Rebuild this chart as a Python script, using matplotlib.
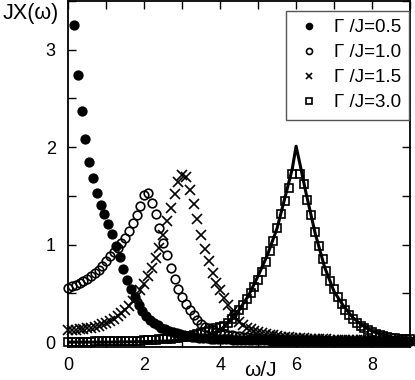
import numpy as np
import matplotlib
matplotlib.use("Agg")
import matplotlib.pyplot as plt
from matplotlib.ticker import MultipleLocator

# frequency grids (omega / J)
w_half = np.round(np.arange(0.15, 9.0, 0.1), 2)   # Gamma/J = 0.5 samples
w_full = np.round(np.arange(0.0, 9.01, 0.1), 2)   # other samples

chi_05 = [3.25, 2.74, 2.37, 2.08, 1.85, 1.68, 1.53, 1.41, 1.31, 1.21,
          1.11, 0.99, 0.87, 0.75, 0.64, 0.54, 0.46, 0.38, 0.32, 0.27,
          0.23, 0.20, 0.175, 0.15, 0.13, 0.115, 0.10, 0.09, 0.08,
          0.07, 0.063, 0.057, 0.052, 0.047, 0.043, 0.04, 0.037, 0.034, 0.032,
          0.03, 0.028, 0.027, 0.025, 0.024, 0.023, 0.022, 0.021, 0.02, 0.019,
          0.018, 0.018, 0.017, 0.016, 0.016, 0.015, 0.015, 0.014, 0.014, 0.013,
          0.013, 0.013, 0.012, 0.012, 0.012, 0.011, 0.011, 0.011, 0.01, 0.01,
          0.01, 0.01, 0.01, 0.009, 0.009, 0.009, 0.009, 0.009, 0.008, 0.008,
          0.008, 0.008, 0.008, 0.008, 0.007, 0.007, 0.007, 0.007, 0.007, 0.007]

chi_10 = [0.56, 0.575, 0.59, 0.61, 0.63, 0.65, 0.68, 0.71, 0.74, 0.78, 0.83,
          0.88, 0.92, 0.97, 1.02, 1.07, 1.14, 1.22, 1.30, 1.40, 1.51,
          1.53, 1.43, 1.31, 1.17, 1.02, 0.89, 0.76, 0.65, 0.55, 0.46,
          0.39, 0.33, 0.275, 0.23, 0.19, 0.16, 0.14, 0.12, 0.105, 0.095,
          0.085, 0.077, 0.07, 0.064, 0.058, 0.053, 0.049, 0.045, 0.042, 0.039,
          0.036, 0.034, 0.032, 0.03, 0.028, 0.027, 0.025, 0.024, 0.023, 0.022,
          0.021, 0.02, 0.019, 0.018, 0.018, 0.017, 0.016, 0.016, 0.015, 0.015,
          0.014, 0.014, 0.013, 0.013, 0.013, 0.012, 0.012, 0.012, 0.011, 0.011,
          0.011, 0.01, 0.01, 0.01, 0.01, 0.01, 0.009, 0.009, 0.009, 0.009]

chi_15 = [0.12, 0.12, 0.125, 0.13, 0.135, 0.14, 0.15, 0.16, 0.17, 0.185, 0.20,
          0.22, 0.24, 0.27, 0.30, 0.33, 0.37, 0.42, 0.47, 0.53, 0.60,
          0.68, 0.76, 0.86, 0.97, 1.10, 1.24, 1.38, 1.52, 1.64, 1.71,
          1.69, 1.56, 1.42, 1.26, 1.10, 0.96, 0.83, 0.71, 0.61, 0.53,
          0.45, 0.38, 0.31, 0.26, 0.21, 0.18, 0.15, 0.13, 0.115, 0.10,
          0.09, 0.082, 0.075, 0.068, 0.062, 0.057, 0.053, 0.049, 0.046, 0.043,
          0.04, 0.038, 0.036, 0.034, 0.032, 0.03, 0.029, 0.028, 0.026, 0.025,
          0.024, 0.023, 0.022, 0.021, 0.021, 0.02, 0.019, 0.019, 0.018, 0.018,
          0.017, 0.017, 0.016, 0.016, 0.015, 0.015, 0.015, 0.014, 0.014, 0.014]

chi_30 = [0.005, 0.005, 0.005, 0.005, 0.006, 0.006, 0.006, 0.007, 0.007, 0.008, 0.008,
          0.009, 0.009, 0.01, 0.011, 0.012, 0.013, 0.014, 0.015, 0.016, 0.018,
          0.02, 0.022, 0.024, 0.027, 0.03, 0.033, 0.037, 0.041, 0.046, 0.051,
          0.057, 0.064, 0.071, 0.08, 0.09, 0.10, 0.11, 0.125, 0.14, 0.155,
          0.17, 0.20, 0.24, 0.28, 0.33, 0.38, 0.44, 0.50, 0.57, 0.64,
          0.72, 0.82, 0.93, 1.04, 1.17, 1.31, 1.45, 1.58, 1.72, np.nan,
          1.72, 1.62, 1.46, 1.30, 1.13, 0.99, 0.85, 0.73, 0.63, 0.55,
          0.46, 0.39, 0.33, 0.28, 0.24, 0.20, 0.17, 0.14, 0.12, 0.10,
          0.085, 0.072, 0.062, 0.054, 0.047, 0.042, 0.037, 0.033, 0.03, 0.027]

# solid curve
line_w = [0.0, 1.0, 2.0, 2.5, 3.0, 3.5, 3.75, 4.0, 4.25, 4.5, 4.75, 5.0, 5.25,
          5.5, 5.75, 5.9, 6.0, 6.1, 6.25, 6.5, 6.75, 7.0, 7.25, 7.5, 7.75,
          8.0, 8.25, 8.5, 8.75, 9.0]
line_chi = [0.0, 0.0, 0.005, 0.01, 0.02, 0.04, 0.065, 0.12, 0.22, 0.33, 0.48, 0.68, 0.90,
            1.17, 1.55, 1.78, 2.01, 1.83, 1.55, 1.12, 0.77, 0.52, 0.37, 0.25, 0.17,
            0.11, 0.08, 0.055, 0.04, 0.03]

plt.rcParams['font.family'] = ['Liberation Sans', 'DejaVu Sans']

fig = plt.figure(figsize=(4.15, 3.8), dpi=100)
ax = fig.add_axes([68.3 / 415, 1 - 347 / 380, (410 - 68.3) / 415, 346 / 380])

ax.plot(w_half, chi_05, 'o', color='black', ms=6.4, clip_on=False, label='Γ /J=0.5')
ax.plot(w_full, chi_10, 'o', mfc='none', mec='black', mew=1.2, ms=6.2, clip_on=False, label='Γ /J=1.0')
ax.plot(w_full, chi_15, 'x', color='black', mew=1.2, ms=6.8, clip_on=False, label='Γ /J=1.5')
ax.plot(w_full, chi_30, 's', mfc='none', mec='black', mew=1.2, ms=5.8, clip_on=False, label='Γ /J=3.0')
ax.plot(line_w, line_chi, '-', color='black', lw=2.2, zorder=5)

ax.set_xlim(0, 9)
ax.set_ylim(-0.05, 3.5)
ax.xaxis.set_major_locator(MultipleLocator(2))
ax.xaxis.set_minor_locator(MultipleLocator(1))
ax.yaxis.set_major_locator(MultipleLocator(1))
ax.yaxis.set_minor_locator(MultipleLocator(0.5))
ax.tick_params(which='both', direction='in', top=True, right=True, length=6, width=1.0, labelsize=13)
ax.tick_params(axis='x', pad=7)
ax.tick_params(axis='y', pad=9)
for s in ax.spines.values():
    s.set_linewidth(1.3)

fig.text(31 / 415, 1 - 13 / 380, 'JΧ(ω)', ha='center', va='center', fontsize=15.5)
fig.text(260 / 415, 1 - 371 / 380, 'ω/J', ha='center', va='center', fontsize=15)

leg = ax.legend(loc='upper right', bbox_to_anchor=(0.998, 0.972), borderaxespad=0,
                fontsize=13.5, markerscale=0.7, handlelength=1.6, handletextpad=0.5,
                labelspacing=0.42, borderpad=0.45, fancybox=False, framealpha=1)
leg.get_frame().set_edgecolor('#555555')
leg.get_frame().set_linewidth(1.0)

fig.savefig('out.png', dpi=100)
